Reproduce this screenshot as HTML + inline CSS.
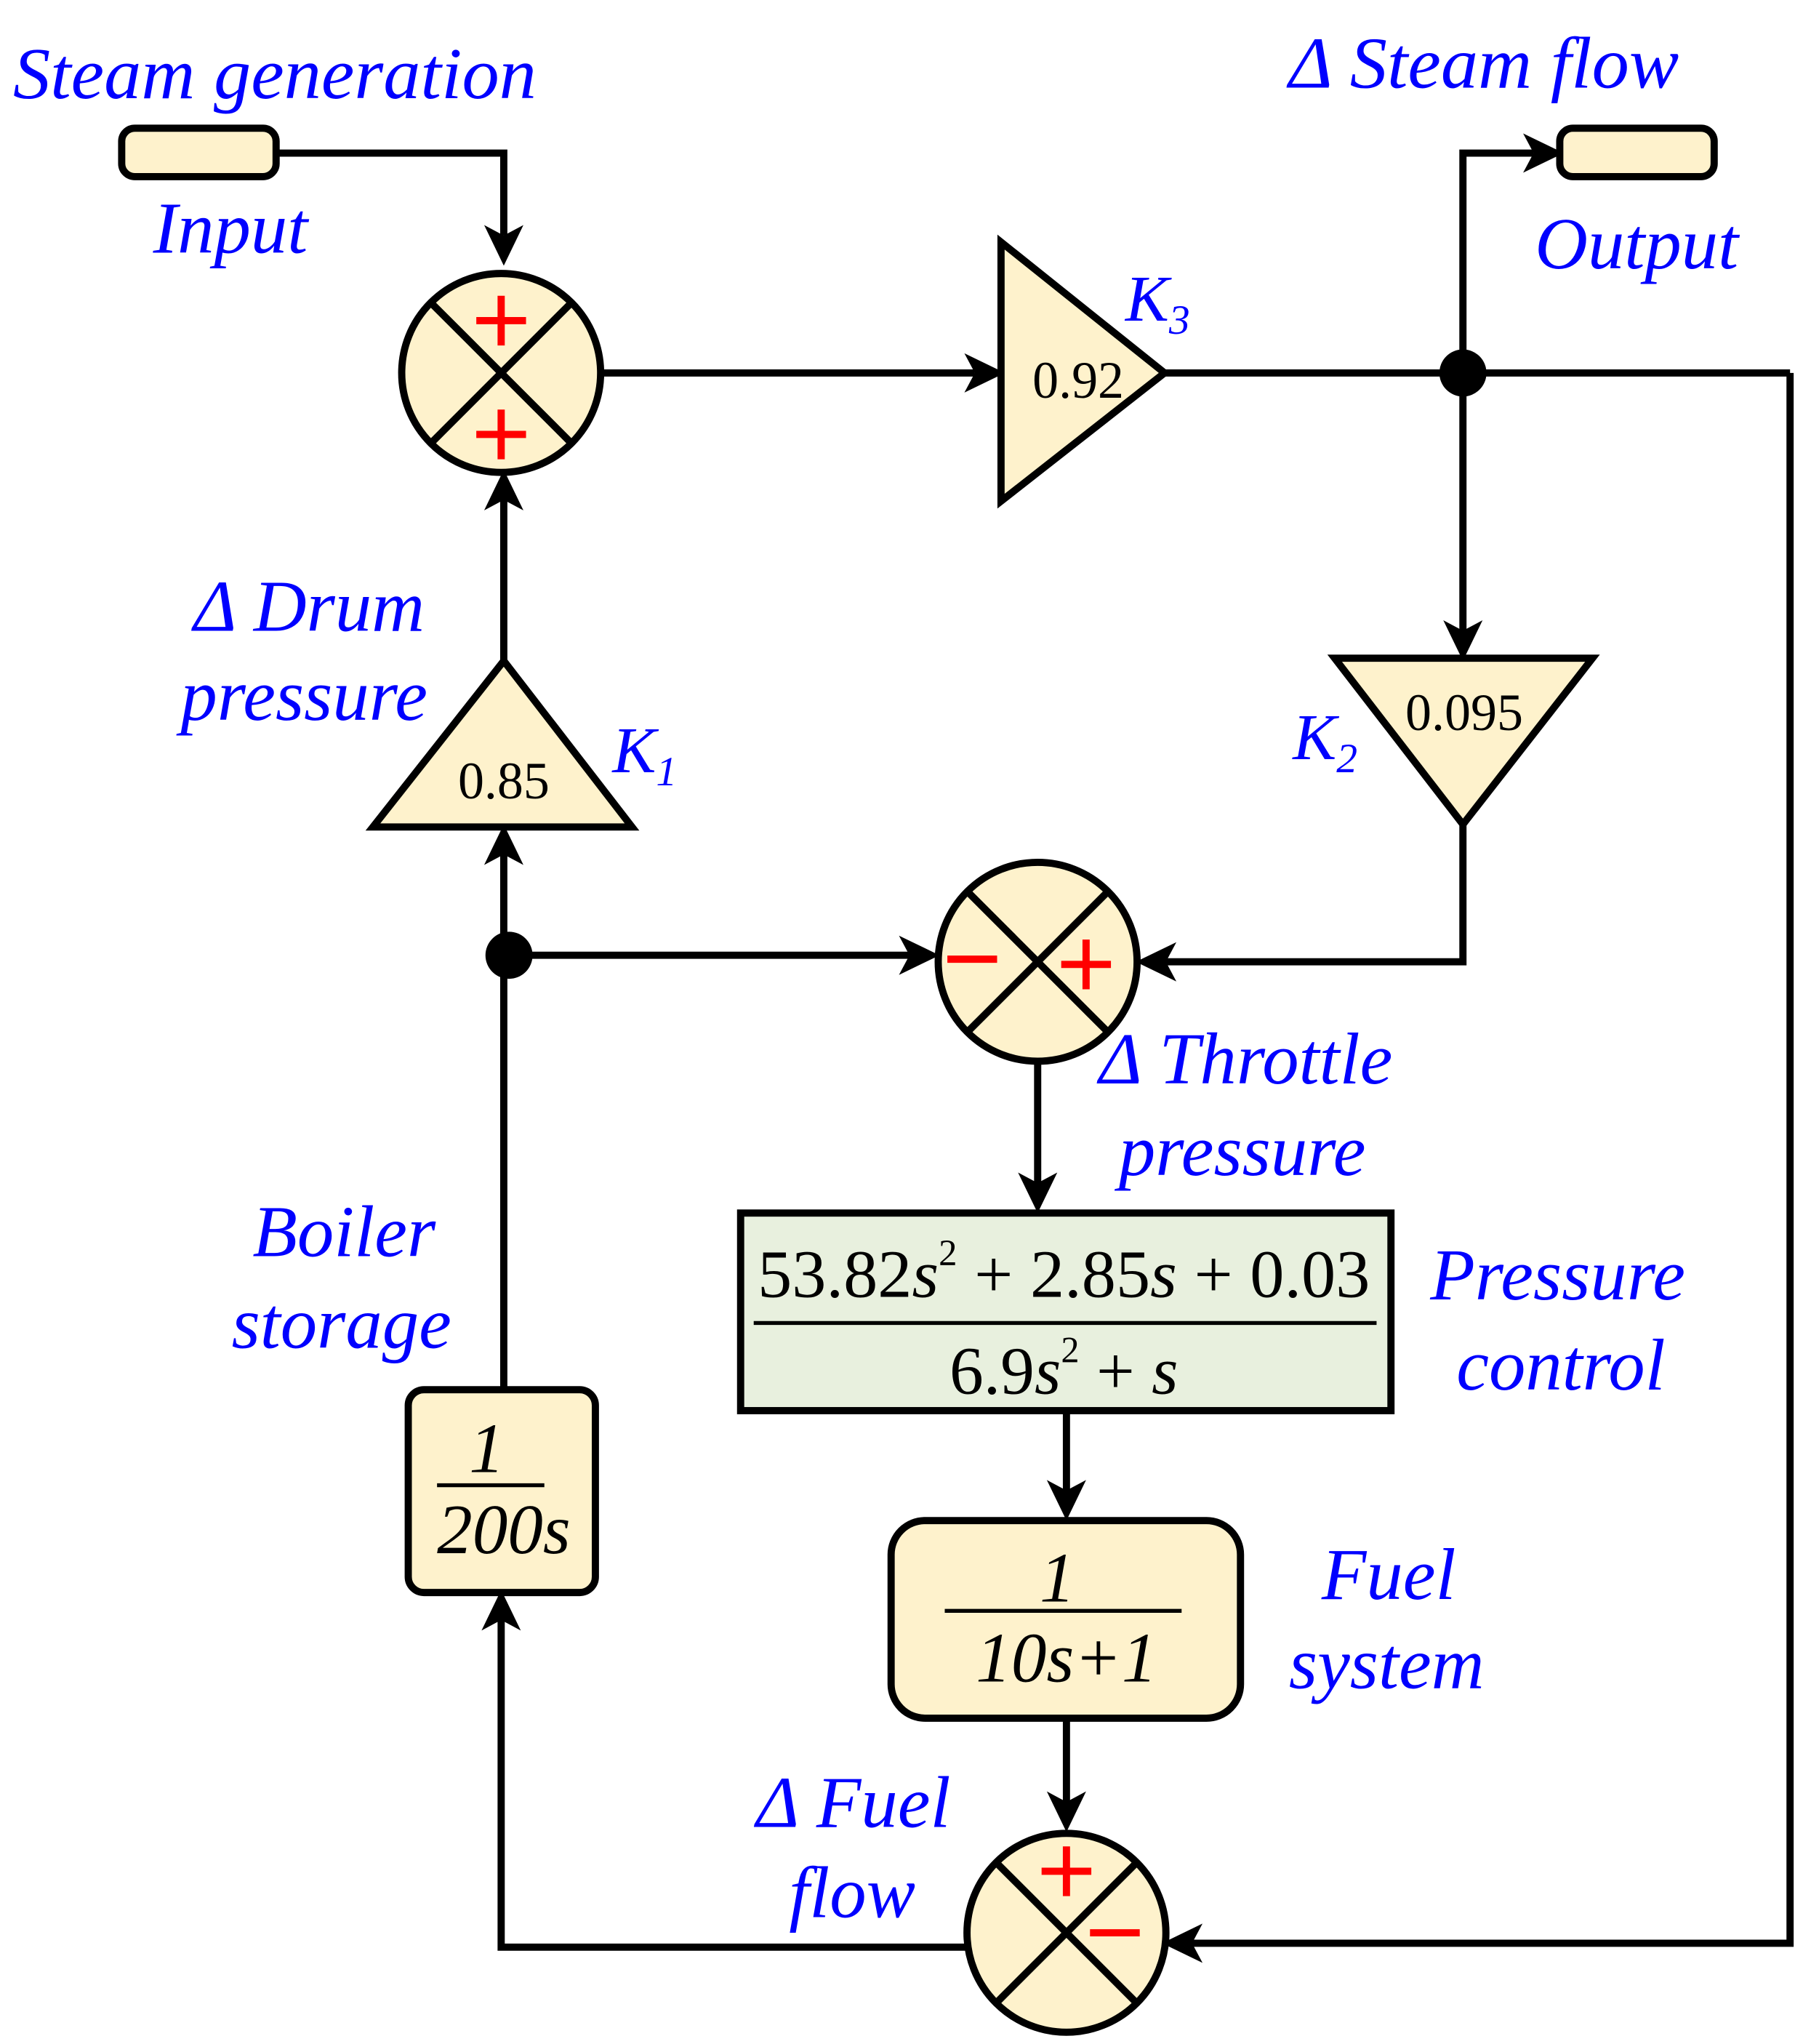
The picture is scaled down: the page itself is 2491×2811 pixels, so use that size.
<!DOCTYPE html>
<html><head><meta charset="utf-8"><style>html,body{margin:0;padding:0;background:#fff}svg{display:block}
.s{font-family:"Liberation Serif","DejaVu Serif",serif}</style></head>
<body>
<svg width="2491" height="2811" viewBox="0 0 1384 1562" preserveAspectRatio="none" xmlns="http://www.w3.org/2000/svg">
<g fill="none" stroke="#000" stroke-width="5.5" stroke-linejoin="miter">
<polyline points="211,117 385,117 385,180"/>
<line x1="460" y1="285" x2="745" y2="285"/>
<line x1="890" y1="285" x2="1368" y2="285"/>
<polyline points="1118,285 1118,117 1172,117"/>
<line x1="1118" y1="285" x2="1118" y2="483"/>
<polyline points="1118,630 1118,735 890,735"/>
<polyline points="1368,285 1368,1485 910,1485"/>
<line x1="385" y1="505" x2="385" y2="382"/>
<line x1="385" y1="1062" x2="385" y2="652"/>
<line x1="389" y1="730" x2="696" y2="730"/>
<line x1="793" y1="812" x2="793" y2="905"/>
<line x1="815" y1="1078" x2="815" y2="1140"/>
<line x1="815" y1="1313" x2="815" y2="1378"/>
<polyline points="738,1488 383,1488 383,1237"/>
</g>
<g fill="#000">
<polygon points="385,203 370,172 385,180 400,172"/>
<polygon points="768,285 737,270 745,285 737,300"/>
<polygon points="1195,117 1164,102 1172,117 1164,132"/>
<polygon points="1118,505 1103,474 1118,482 1133,474"/>
<polygon points="868,735 899,720 891,735 899,750"/>
<polygon points="888,1485 919,1470 911,1485 919,1500"/>
<polygon points="385,359 370,390 385,382 400,390"/>
<polygon points="385,630 370,661 385,653 400,661"/>
<polygon points="718,730 687,715 695,730 687,745"/>
<polygon points="793,927 778,896 793,904 808,896"/>
<polygon points="815,1162 800,1131 815,1139 830,1131"/>
<polygon points="815,1400 800,1369 815,1377 830,1369"/>
<polygon points="383,1215 368,1246 383,1238 398,1246"/>
<circle cx="1118" cy="285" r="18"/>
<circle cx="389" cy="730" r="18"/>
</g>
<g stroke="#000" stroke-width="5.5" fill="#FEF2CC">
<rect x="93" y="98" width="118" height="37" rx="10"/>
<rect x="1192" y="98" width="118" height="37" rx="10"/>
<circle cx="383" cy="285" r="76"/>
<circle cx="793" cy="735" r="76"/>
<circle cx="815" cy="1477" r="76"/>
<polygon points="765,185 765,383 890,285"/>
<polygon points="1020,503 1217,503 1118,630"/>
<polygon points="285,632 483,632 385,505"/>
<rect x="312" y="1062" width="143" height="155" rx="12"/>
<rect x="681" y="1162" width="267" height="151" rx="26"/>
<rect x="566" y="927" width="497" height="151" fill="#E8F0DE"/>
</g>
<g stroke="#000" stroke-width="5.5">
<line x1="329" y1="231" x2="437" y2="339"/><line x1="437" y1="231" x2="329" y2="339"/>
<line x1="739" y1="681" x2="847" y2="789"/><line x1="847" y1="681" x2="739" y2="789"/>
<line x1="761" y1="1423" x2="869" y2="1531"/><line x1="869" y1="1423" x2="761" y2="1531"/>
</g>
<g stroke="#000" stroke-width="3">
<line x1="576" y1="1011" x2="1052" y2="1011"/>
<line x1="722" y1="1231" x2="903" y2="1231"/>
<line x1="334" y1="1135" x2="416" y2="1135"/>
</g>
<g stroke="#f00" stroke-width="5.5">
<line x1="364" y1="245" x2="402" y2="245"/><line x1="383" y1="226" x2="383" y2="264"/>
<line x1="364" y1="332" x2="402" y2="332"/><line x1="383" y1="313" x2="383" y2="351"/>
<line x1="724" y1="733" x2="762" y2="733"/>
<line x1="811" y1="737" x2="849" y2="737"/><line x1="830" y1="718" x2="830" y2="756"/>
<line x1="796" y1="1430" x2="834" y2="1430"/><line x1="815" y1="1411" x2="815" y2="1449"/>
<line x1="833" y1="1477" x2="871" y2="1477"/>
</g>
<g class="s" fill="#000" text-anchor="middle">
<text x="824" y="304" font-size="40">0.92</text>
<text x="1119" y="558" font-size="40">0.095</text>
<text x="385" y="610" font-size="40">0.85</text>
<text x="813" y="991" font-size="52" textLength="468" lengthAdjust="spacingAndGlyphs">53.82<tspan font-style="italic">s</tspan><tspan font-size="28" dy="-24">2</tspan><tspan dy="24"> + 2.85</tspan><tspan font-style="italic">s</tspan> + 0.03</text>
<text x="813" y="1065" font-size="52">6.9<tspan font-style="italic">s</tspan><tspan font-size="28" dy="-24">2</tspan><tspan dy="24"> + </tspan><tspan font-style="italic">s</tspan></text>
<text x="808" y="1224" font-size="54" font-style="italic">1</text>
<text x="815" y="1285" font-size="54" font-style="italic">10s+1</text>
<text x="372" y="1125" font-size="54" font-style="italic">1</text>
<text x="385" y="1187" font-size="54" font-style="italic">200s</text>
</g>
<g class="s" fill="#0000ff" font-style="italic" font-size="56">
<text x="10" y="75" textLength="400" lengthAdjust="spacingAndGlyphs">Steam generation</text>
<text x="117" y="193">Input</text>
<text x="985" y="67" textLength="298" lengthAdjust="spacingAndGlyphs">Δ Steam flow</text>
<text x="1173" y="205">Output</text>
<text x="860" y="245" font-size="50">K<tspan font-size="32" dy="10">3</tspan></text>
<text x="988" y="580" font-size="50">K<tspan font-size="32" dy="10">2</tspan></text>
<text x="468" y="590" font-size="50">K<tspan font-size="32" dy="10">1</tspan></text>
<text x="148" y="482">Δ Drum</text>
<text x="138" y="550">pressure</text>
<text x="840" y="828">Δ Throttle</text>
<text x="855" y="898">pressure</text>
<text x="1093" y="993">Pressure</text>
<text x="1113" y="1062">control</text>
<text x="193" y="960">Boiler</text>
<text x="177" y="1030">storage</text>
<text x="1010" y="1222">Fuel</text>
<text x="985" y="1290">system</text>
<text x="578" y="1396">Δ Fuel</text>
<text x="603" y="1465">flow</text>
</g>
</svg>
</body></html>
